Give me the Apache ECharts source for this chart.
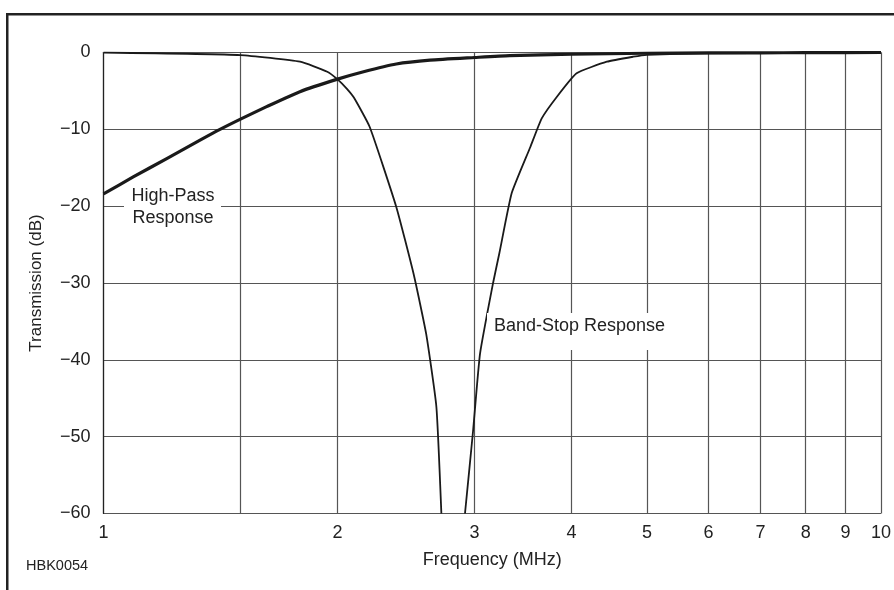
<!DOCTYPE html>
<html>
<head>
<meta charset="utf-8">
<script src="https://cdn.jsdelivr.net/npm/echarts@6/dist/echarts.min.js"></script>
<style>
html,body{margin:0;padding:0;background:#fff;}
#chart{width:894px;height:590px;}
</style>
</head>
<body>
<div id="chart"></div>
<script>
// ---- data ----
var xTickValues = [1, 1.5, 2, 3, 4, 5, 6, 7, 8, 9, 10];
var xLabelValues = [1, 2, 3, 4, 5, 6, 7, 8, 9, 10];
var yTicks = [0, -10, -20, -30, -40, -50, -60];

var hpFreq = [1, 1.092, 1.206, 1.331, 1.412, 1.505, 1.621, 1.789, 1.995, 2.16, 2.38, 2.63, 3.0, 3.33, 4.0, 5.0, 6, 7, 8, 10];
var hpDb   = [-18.4, -16.2, -13.8, -11.4, -10.0, -8.6, -7.05, -5.1, -3.5, -2.5, -1.5, -1.0, -0.65, -0.4, -0.23, -0.1, -0.06, -0.04, -0.02, 0];

var bsFreq = [1, 1.5, 1.79, 1.94, 2.0, 2.055, 2.1, 2.2, 2.38, 2.505, 2.6, 2.68, 2.72, 2.82, 2.917, 2.988, 3.05, 3.17, 3.23, 3.35, 3.54, 3.66, 3.83, 4.06, 4.44, 4.8, 5.0, 6, 10];
var bsDb   = [0, -0.33, -1.2, -2.5, -3.5, -4.7, -5.9, -9.7, -20.1, -28.8, -36.6, -46.1, -60, null, -60, -49.2, -39.2, -30, -26.1, -18.3, -12.3, -8.6, -5.75, -2.7, -1.2, -0.55, -0.3, -0.1, 0];

var highPassLabel = 'High-Pass\nResponse';
var bandStopLabel = 'Band-Stop Response';
var xTitle = 'Frequency (MHz)';
var yTitle = 'Transmission (dB)';
var figId = 'HBK0054';

function pairs(xs, ys) {
  return xs.map(function (x, i) { return [x, ys[i] === null ? '-' : ys[i]]; });
}

var FONT = 'Liberation Sans, Arial, sans-serif';
var chart = echarts.init(document.getElementById('chart'), null, {renderer: 'canvas'});

var option = {
  animation: false,
  backgroundColor: '#fff',
  grid: {left: 103.5, right: 13, top: 52.5, bottom: 76.5, containLabel: false},
  xAxis: {
    type: 'log', logBase: 10, min: 1, max: 10,
    name: xTitle, nameLocation: 'middle', nameGap: 38,
    nameTextStyle: {fontFamily: FONT, fontSize: 18, color: '#222'},
    axisLine: {show: true, lineStyle: {color: '#555', width: 1.2}},
    axisTick: {show: false, customValues: xTickValues},
    minorTick: {show: false},
    axisLabel: {customValues: xLabelValues, fontFamily: FONT, fontSize: 18, color: '#222', margin: 11,
      formatter: function (v) { return String(Math.round(v)); }},
    splitLine: {show: true, lineStyle: {color: '#555', width: 1.2}},
    minorSplitLine: {show: false}
  },
  yAxis: {
    type: 'value', min: -60, max: 0, interval: 10,
    name: yTitle, nameLocation: 'middle', nameGap: 59,
    nameTextStyle: {fontFamily: FONT, fontSize: 17, color: '#222'},
    axisLine: {show: true, lineStyle: {color: '#222', width: 1.2}},
    axisTick: {show: false},
    axisLabel: {fontFamily: FONT, fontSize: 18, color: '#222', margin: 13,
      formatter: function (v) { return v < 0 ? '\u2212' + Math.abs(v) : String(v); }},
    splitLine: {show: true, lineStyle: {color: '#555', width: 1.2}}
  },
  series: [
    {
      name: 'High-Pass Response', type: 'line', data: pairs(hpFreq, hpDb),
      symbol: 'none', smooth: 0.2, clip: true,
      lineStyle: {color: '#1a1a1a', width: 3.2, join: 'round'}
    },
    {
      name: 'Band-Stop Response', type: 'line', data: pairs(bsFreq, bsDb),
      symbol: 'none', smooth: 0.15, connectNulls: false, clip: true,
      lineStyle: {color: '#1a1a1a', width: 1.8, join: 'round'}
    }
  ],
  graphic: [
    {type: 'rect', shape: {x: 7, y: 13, width: 887, height: 2.5}, style: {fill: '#222'}, z: 100},
    {type: 'rect', shape: {x: 6, y: 13, width: 2.5, height: 577}, style: {fill: '#222'}, z: 100},
    {type: 'rect', shape: {x: 124, y: 185, width: 97, height: 46}, style: {fill: '#fff'}, z: 50},
    {type: 'text', x: 173, y: 207, style: {text: highPassLabel, font: '18px ' + FONT, fill: '#222', align: 'center', verticalAlign: 'middle', lineHeight: 22}, z: 60},
    {type: 'rect', shape: {x: 487, y: 313, width: 188, height: 37}, style: {fill: '#fff'}, z: 50},
    {type: 'text', x: 494, y: 326, style: {text: bandStopLabel, font: '18px ' + FONT, fill: '#222', align: 'left', verticalAlign: 'middle'}, z: 60},
    {type: 'text', x: 26, y: 566, style: {text: figId, font: '14.5px ' + FONT, fill: '#222', align: 'left', verticalAlign: 'middle'}, z: 60}
  ]
};
chart.setOption(option);
</script>
</body>
</html>
